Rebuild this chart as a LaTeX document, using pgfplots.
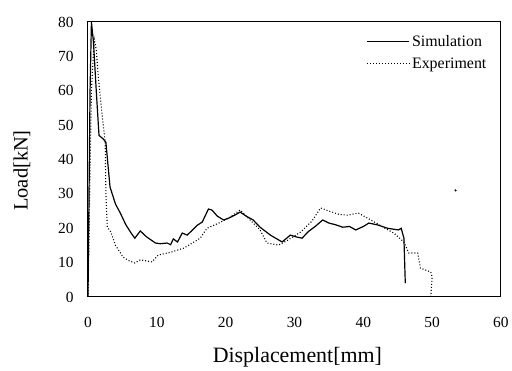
\documentclass[border=0pt]{standalone}
\usepackage{pgfplots}
\pgfplotsset{compat=1.18}
\usepackage{fontspec}
\setmainfont{Liberation Serif}
\begin{document}
\begin{tikzpicture}
\begin{axis}[
  scale only axis,
  width=413bp, height=275bp,
  xmin=0, xmax=60, ymin=0, ymax=80,
  xtick={0,10,...,60}, ytick={0,10,...,80},
  major tick length=0pt,
  axis line style={line width=1pt},
  /pgf/number format/assume math mode=true,
  tick label style={font=\fontsize{15.5}{18}\selectfont},
  yticklabel style={xshift=-11bp},
  xticklabel style={yshift=-17bp},
  xlabel={Displacement[mm]},
  ylabel={Load[kN]},
  xlabel style={font=\fontsize{22}{26}\selectfont, at={(axis description cs:0.507,0)}, anchor=base, yshift=-66bp},
  ylabel style={font=\fontsize{20.5}{24}\selectfont, at={(axis description cs:-0.16,0.46)}, anchor=center},
  legend style={draw=none, fill=none, at={(axis description cs:0.97,0.96)}, anchor=north east,
    font=\fontsize{16}{19}\selectfont, row sep=6bp, inner sep=0pt},
  legend cell align=left,
  legend image code/.code={\draw[#1] (0bp,0bp) -- (42bp,0bp);},
]
\addplot[black, line width=1.2pt] coordinates {
(0,0) (0.3,60) (0.5,80) (0.8,74) (1.2,60) (1.6,47) (2.2,46) (2.6,45) (3.2,32) (4.0,27)
(4.7,24.4) (5.5,21) (6.3,18.5) (6.8,17.1) (7.6,19.2) (8.5,17.5) (9.8,15.7) (10.5,15.5)
(11.5,15.7) (12.0,15.2) (12.4,16.9) (13.0,16) (13.7,18.6) (14.4,18) (15.2,19.5) (15.9,20.9)
(16.6,21.8) (17.5,25.6) (18,25.3) (18.8,23.5) (19.7,22.4) (20.5,23) (21.5,24) (22.1,24.7)
(23,23.5) (24,22.4) (25,20.3) (26.5,18) (28.2,16) (29.4,18) (30.2,17.5) (31.1,17.1) (32,19)
(33,20.5) (34.1,22.4) (35,21.5) (36,21) (37,20.3) (38,20.5) (38.9,19.5) (40,20.5) (40.8,21.5)
(42,21) (43.5,20) (45.1,19.5) (45.5,20) (45.9,17.1) (46.1,4)
};
\addlegendentry{Simulation}
\addplot[black, line width=1.1pt, dash pattern=on 1pt off 2pt] coordinates {
(0,0) (0.5,60) (0.9,75) (1.2,72) (1.5,64) (2.0,54) (2.5,45) (2.6,30) (2.8,20.3) (3.3,19)
(4.0,15) (5.1,11.6) (6.0,10.5) (6.8,9.9) (7.6,10.8) (8.5,10.5) (9.3,10.2) (10.2,12.2) (12,13)
(13.9,14.2) (15,15.5) (16.3,17.1) (17.3,20) (19,21.5) (20.5,23) (22.1,25.3) (23.5,22.5)
(25,19.5) (26,15.7) (27.7,15.1) (29,16.5) (30.9,18.9) (32.5,22) (33.8,25.9) (35,25) (36.5,24)
(37.7,23.8) (39.3,24.4) (41,22.5) (42.9,20.3) (44.5,18.5) (45.9,16) (46.6,12.8) (47.9,12.8)
(48.3,8.4) (49.5,7.5) (49.8,7.3) (50,5.8) (49.8,0)
};
\addlegendentry{Experiment}
\addplot[only marks, mark=*, mark size=0.8pt, black, forget plot] coordinates {(53.4,31)};
\end{axis}
\path ([xshift=-88bp,yshift=-72bp]current axis.south west) rectangle ([xshift=11bp,yshift=22bp]current axis.north east);
\end{tikzpicture}
\end{document}
